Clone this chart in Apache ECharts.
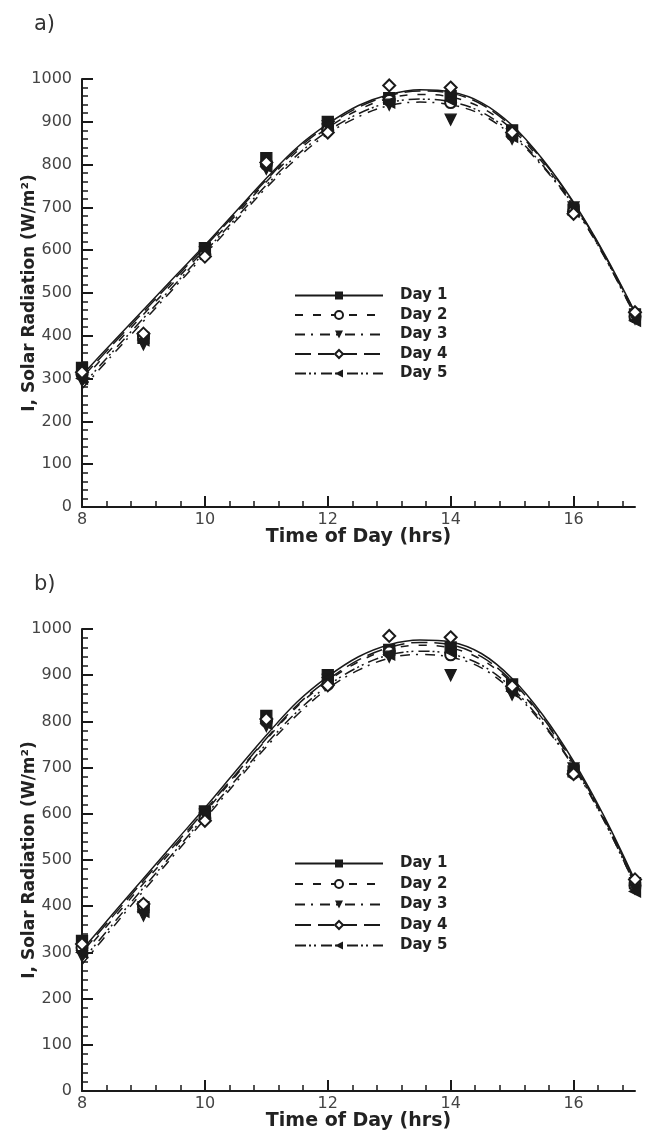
<!DOCTYPE html>
<html><head><meta charset="utf-8">
<script src="https://cdn.jsdelivr.net/npm/echarts@6/dist/echarts.min.js"></script>
<style>
html,body{margin:0;padding:0;background:#fff;}
#pa{position:absolute;left:0;top:0;width:652px;height:560px;}
#pb{position:absolute;left:0;top:560px;width:652px;height:577px;}
</style>
</head><body>
<div id="pa"></div><div id="pb"></div>
<script>
// ---------- data ----------
const dayNames = ['Day 1', 'Day 2', 'Day 3', 'Day 4', 'Day 5'];
const hours = [8, 9, 10, 11, 12, 13, 14, 15, 16, 17];
const xTickLabels = [8, 10, 12, 14, 16];
const yTickLabels = [0, 100, 200, 300, 400, 500, 600, 700, 800, 900, 1000];

// measured points, panel a
const aDay1 = [325, 395, 605, 815, 900, 955, 960, 880, 695, 450];
const aDay2 = [310, 400, 590, 800, 880, 950, 945, 870, 690, 445];
const aDay3 = [295, 380, 595, 790, 890, 940, 905, 860, 700, 440];
const aDay4 = [315, 405, 585, 805, 875, 985, 980, 875, 685, 455];
const aDay5 = [300, 390, 600, 795, 895, 945, 950, 865, 690, 435];

// fitted curves
const fitTimes = [8, 8.5, 9, 9.5, 10, 10.5, 11, 11.5, 12, 12.5, 13, 13.5, 14, 14.5, 15, 15.5, 16, 16.5, 17];
const aFit1 = [308, 385, 461, 537, 612, 690, 768, 840, 895, 938, 964, 975, 970, 945, 892, 812, 712, 592, 455];
const aFit2 = [296, 373, 450, 526, 602, 681, 760, 831, 886, 928, 955, 964, 958, 933, 882, 804, 707, 588, 450];
const aFit3 = [276, 356, 434, 512, 590, 668, 746, 815, 872, 912, 938, 946, 940, 917, 868, 795, 702, 585, 447];
const aFit4 = [302, 380, 456, 532, 608, 686, 764, 836, 891, 934, 961, 972, 967, 941, 888, 809, 710, 590, 453];
const aFit5 = [284, 363, 441, 518, 596, 674, 752, 822, 878, 919, 945, 953, 947, 923, 873, 798, 704, 586, 446];

// measured points, panel b
const bDay1 = [325, 398, 605, 812, 900, 955, 960, 880, 692, 450];
const bDay2 = [310, 402, 590, 800, 880, 950, 944, 872, 688, 445];
const bDay3 = [292, 380, 598, 790, 890, 940, 900, 858, 698, 438];
const bDay4 = [318, 405, 585, 805, 878, 985, 982, 876, 686, 458];
const bDay5 = [300, 388, 602, 795, 895, 945, 950, 865, 694, 432];

// fitted curves
const bFit1 = [305, 383, 460, 537, 613, 692, 770, 842, 897, 940, 966, 976, 972, 947, 893, 814, 714, 594, 456];
const bFit2 = [294, 372, 449, 526, 603, 682, 761, 832, 887, 929, 956, 965, 959, 934, 883, 805, 708, 589, 451];
const bFit3 = [274, 354, 433, 511, 589, 667, 745, 814, 871, 911, 937, 945, 939, 916, 866, 794, 701, 584, 446];
const bFit4 = [300, 378, 455, 531, 607, 685, 763, 835, 890, 933, 960, 971, 966, 940, 887, 808, 709, 590, 453];
const bFit5 = [282, 361, 440, 517, 595, 673, 751, 821, 877, 918, 944, 952, 946, 922, 872, 797, 703, 585, 445];

// ---------- styles ----------
const INK = '#1a1a1a';
const FONT = 'DejaVu Sans';
const daySymbols = ['rect', 'emptyCircle', 'triangle', 'emptyDiamond', 'triangle'];
const dayRotate = [0, 0, 180, 0, 90];
const dayDash = ['solid', [8, 10], [10, 6, 2, 7], [16, 7], [11, 3, 2, 3, 2, 5]];

const minorX = [];
for (let k = 0; k <= 22; k++) {
  const v = Math.round((8 + 0.4 * k) * 10) / 10;
  if (xTickLabels.indexOf(v) < 0) minorX.push(v);
}

function buildOption(tag, points, fits, gridTop, gridHeight, legendTop, legendGap) {
  const series = [];
  dayNames.forEach((name, i) => {
    series.push({
      name: name, type: 'line', xAxisIndex: 0, yAxisIndex: 0,
      data: fitTimes.map((t, j) => [t, fits[i][j]]),
      smooth: 0.35, symbol: daySymbols[i], symbolRotate: dayRotate[i], symbolSize: 8,
      showSymbol: false, silent: true, z: 2,
      lineStyle: { color: INK, width: 1.5, type: dayDash[i] },
      itemStyle: { color: INK }
    });
  });
  [0, 1, 2, 4, 3].forEach(i => {
    series.push({
      name: dayNames[i], type: 'scatter', xAxisIndex: 0, yAxisIndex: 0,
      data: hours.map((h, j) => [h, points[i][j]]),
      symbol: daySymbols[i], symbolRotate: dayRotate[i],
      symbolSize: (i === 3 ? 12 : 11), silent: true, z: 3,
      itemStyle: { color: INK, borderColor: INK, borderWidth: 1.3, opacity: 1 }
    });
  });
  const axisLineStyle = { color: INK, width: 2 };
  return {
    animation: false,
    backgroundColor: '#fff',
    title: { text: tag, left: 29, top: 9, textStyle: { fontFamily: FONT, fontSize: 21, fontWeight: 'normal', color: '#333' } },
    grid: { left: 82, top: gridTop, width: 553, height: gridHeight, outerBoundsMode: 'none', containLabel: false },
    legend: {
      orient: 'vertical', left: 289, top: legendTop, itemWidth: 88, itemHeight: 10, itemGap: legendGap,
      data: dayNames, selectedMode: false,
      textStyle: { fontFamily: FONT, fontWeight: 'bold', fontSize: 15, color: '#222', lineHeight: 14, padding: [0, 0, 0, 12] }
    },
    xAxis: [{
      type: 'value', min: 8, max: 17, interval: 0.4, position: 'bottom',
      axisLine: { show: true, onZero: false, lineStyle: axisLineStyle },
      axisTick: { show: true, inside: true, length: 6, customValues: minorX, lineStyle: { color: INK, width: 1.5 } },
      axisLabel: { show: true, customValues: xTickLabels, margin: 5, fontFamily: FONT, fontSize: 16, color: '#444',
        formatter: v => String(v) },
      splitLine: { show: false },
      name: 'Time of Day (hrs)', nameLocation: 'middle', nameGap: 21, nameMoveOverlap: false,
      nameTextStyle: { fontFamily: FONT, fontWeight: 'bold', fontSize: 19, color: '#222' }
    }, {
      type: 'value', min: 8, max: 17, interval: 0.4, position: 'bottom',
      axisLine: { show: false, onZero: false },
      axisTick: { show: true, inside: true, length: 11, customValues: xTickLabels, lineStyle: { color: INK, width: 2 } },
      axisLabel: { show: false },
      splitLine: { show: false }
    }],
    yAxis: {
      type: 'value', min: 0, max: 1000, interval: 100,
      axisLine: { show: true, onZero: false, lineStyle: axisLineStyle },
      axisTick: { show: true, inside: true, length: 11, lineStyle: { color: INK, width: 2 } },
      minorTick: { show: true, splitNumber: 5, length: 6, lineStyle: { color: INK, width: 1.5 } },
      splitLine: { show: false }, minorSplitLine: { show: false },
      axisLabel: { margin: 10, fontFamily: FONT, fontSize: 16, color: '#444',
        customValues: yTickLabels, formatter: v => String(v) },
      name: 'I, Solar Radiation (W/m²)', nameLocation: 'middle', nameGap: 44, nameMoveOverlap: false,
      nameTextStyle: { fontFamily: FONT, fontWeight: 'bold', fontSize: 17, color: '#222' }
    },
    series: series
  };
}

const chartA = echarts.init(document.getElementById('pa'), null, { renderer: 'canvas' });
chartA.setOption(buildOption('a)', [aDay1, aDay2, aDay3, aDay4, aDay5], [aFit1, aFit2, aFit3, aFit4, aFit5], 79, 428, 283, 4.5));
const chartB = echarts.init(document.getElementById('pb'), null, { renderer: 'canvas' });
chartB.setOption(buildOption('b)', [bDay1, bDay2, bDay3, bDay4, bDay5], [bFit1, bFit2, bFit3, bFit4, bFit5], 69, 462, 291, 5.5));
</script>
</body></html>
